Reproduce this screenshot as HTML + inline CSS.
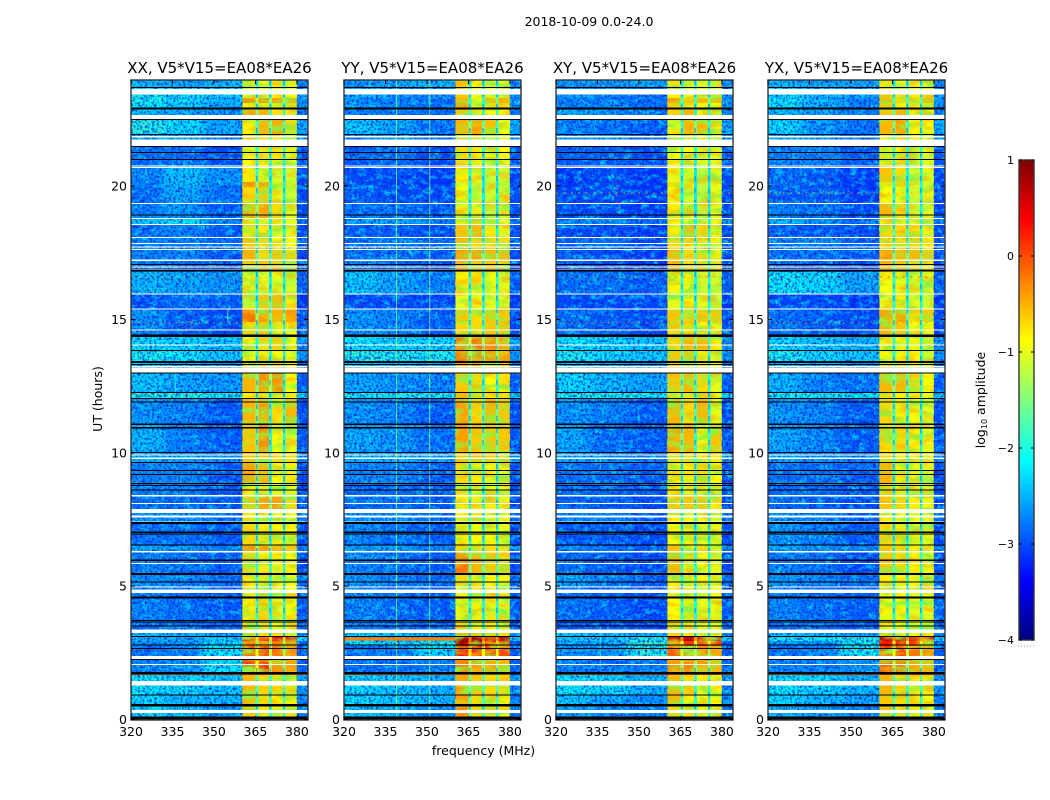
<!DOCTYPE html>
<html>
<head>
<meta charset="utf-8">
<title>2018-10-09 spectrogram</title>
<style>
html,body{margin:0;padding:0;background:#fff}
svg{display:block}
text{font-family:"DejaVu Sans","Liberation Sans",sans-serif;fill:#000}
</style>
</head>
<body>
<svg id="chart" xmlns="http://www.w3.org/2000/svg" width="1050" height="800" viewBox="0 0 1050 800">
<defs>
<filter id="speckDark" x="0" y="0" width="1" height="1" color-interpolation-filters="sRGB">
<feTurbulence type="fractalNoise" baseFrequency="0.42" numOctaves="2" seed="3"/>
<feColorMatrix type="matrix" values="0 0 0 0 0  0 0 0 0 0.12  0 0 0 0 0.85  2.6 0 0 0 -1.12"/>
</filter>
<filter id="speckLight" x="0" y="0" width="1" height="1" color-interpolation-filters="sRGB">
<feTurbulence type="fractalNoise" baseFrequency="0.12 0.2" numOctaves="3" seed="11"/>
<feColorMatrix type="matrix" values="0 0 0 0 0  0 0 0 0 0.85  0 0 0 0 1  2.4 0 0 0 -1.05"/>
</filter>
<filter id="bandGreen" x="0" y="0" width="1" height="1" color-interpolation-filters="sRGB">
<feTurbulence type="fractalNoise" baseFrequency="0.05 0.12" numOctaves="3" seed="5"/>
<feColorMatrix type="matrix" values="0 0 0 0 0.55  0 0 0 0 0.95  0 0 0 0 0.25  2.8 0 0 0 -1.15"/>
</filter>
<filter id="bandAmber" x="0" y="0" width="1" height="1" color-interpolation-filters="sRGB">
<feTurbulence type="fractalNoise" baseFrequency="0.06 0.14" numOctaves="2" seed="21"/>
<feColorMatrix type="matrix" values="0 0 0 0 1  0 0 0 0 0.72  0 0 0 0 0  2.4 0 0 0 -1.1"/>
</filter>
<filter id="smearX" x="-15%" y="0" width="130%" height="100%">
<feGaussianBlur stdDeviation="5 0"/>
</filter>
</defs>
<text x="589" y="26" text-anchor="middle" font-size="12.5">2018-10-09 0.0-24.0</text>
<text x="483.5" y="755" text-anchor="middle" font-size="12.5">frequency (MHz)</text>
<text transform="translate(102,399) rotate(-90)" text-anchor="middle" font-size="12.5">UT (hours)</text>
<text transform="translate(985,400) rotate(-90)" text-anchor="middle" font-size="12.5">log<tspan font-size="8" dy="2">10</tspan><tspan dy="-2"> amplitude</tspan></text>
<g id="panels"></g>
<g id="colorbar"></g>
</svg>
<script>
// Polarisation titles
const panelTitles = ["XX, V5*V15=EA08*EA26", "YY, V5*V15=EA08*EA26", "XY, V5*V15=EA08*EA26", "YX, V5*V15=EA08*EA26"];
const xTickLabels = [320, 335, 350, 365, 380];
const yTickLabels = [0, 5, 10, 15, 20];
const colorbarTickLabels = [1, 0, -1, -2, -3, -4];

// Time-row boundaries (UT hours, top to bottom)
const rowEdges = [24.00,23.68,23.30,23.12,22.85,22.48,21.92,21.47,20.79,20.15,19.97,19.33,18.80,18.58,18.09,17.64,17.23,16.78,15.95,15.39,14.90,14.34,13.82,13.37,12.99,12.24,12.02,11.04,9.99,9.66,8.83,8.38,7.89,7.33,6.51,6.28,5.42,4.97,3.69,3.24,3.09,2.94,2.76,2.23,1.67,0.92,0.47,0];

// Frequency channel boundaries (MHz)
const channelEdges = [320,332,346,360.3,365.1,366,369.9,370.8,374.9,375.8,380,384];

// log10 amplitude per row: [320-332, 332-346, 346-360, band1, band2, band3, band4]
const ampXX = [
[-2.4,-2.5,-2.4,-.9,-1,-.8,-1],[-2.0,-2.2,-2.3,-.9,-.9,-.8,-.9],[-2.0,-2.2,-2.4,-.2,-.2,-.4,-.4],[-2.1,-2.3,-2.5,-.8,-.8,-.8,-.9],
[-2.4,-2.5,-2.7,-.4,-.5,-.8,-.9],[-1.9,-2.2,-2.5,-.8,-.5,-.4,-.7],[-2.5,-2.5,-2.7,-.7,-.7,-.8,-.8],[-2.8,-2.8,-3,-.9,-.8,-.8,-1],
[-2.7,-2.35,-2.6,-.8,-.9,-1.1,-1.1],[-2.7,-2.4,-2.7,-.3,-.4,-.9,-1.1],[-2.8,-2.5,-2.8,-.7,-.6,-1,-1.1],[-2.7,-2.6,-2.9,-.4,-.4,-.7,-1],
[-2.3,-2.1,-2.6,-.9,-.9,-1,-1],[-2.8,-2.7,-2.9,-.8,-.8,-1,-1],[-2.7,-2.7,-2.8,-.6,-.7,-.9,-.9],[-2.7,-2.7,-2.9,-.5,-.7,-.6,-.7],
[-2.7,-2.8,-2.9,-.6,-.6,-.6,-.7],[-2.4,-2.5,-2.6,-1,-1,-1,-1.1],[-3,-2.8,-2.9,-1.1,-.6,-.5,-.8],[-2.6,-2.9,-3,-.2,-.4,-.5,-.4],
[-2.7,-2.9,-3,-.7,-.6,-.8,-.9],[-2.2,-2.2,-2.3,-1,-.8,-.7,-.9],[-2.0,-2.1,-2.3,-.9,-.8,-.9,-1],[-2.2,-2.4,-2.5,-.5,-.5,-.6,-.8],
[-2.3,-2.5,-2.6,-.5,-.3,-.3,-.9],[-1.9,-1.9,-2,-.9,-.9,-1,-1],[-2.6,-2.7,-2.9,-.5,-.4,-.8,-.5],[-2.4,-2.7,-2.9,-.6,-.3,-.9,-1],
[-2.4,-2.5,-2.6,-.6,-.6,-.7,-.7],[-2.7,-2.7,-2.9,-.4,-.5,-.9,-.8],[-2.7,-2.7,-2.9,-.9,-1,-1,-1],[-2.8,-2.8,-2.9,-.6,-.4,-.4,-.7],
[-2.6,-2.6,-2.8,-.8,-.8,-.9,-.9],[-2.8,-2.8,-2.9,-.7,-.8,-.9,-.9],[-2.5,-2.6,-2.7,-.3,-.4,-.5,-.6],[-2.7,-2.8,-2.9,-.7,-.8,-.8,-.9],
[-2.6,-2.7,-2.8,-.8,-.8,-.9,-.9],[-2.7,-2.8,-2.9,-.8,-.7,-1,-.9],[-2.8,-2.8,-2.9,-.7,-.7,-.9,-.9],[-2.3,-2.4,-2.5,-.6,-.7,-.8,-.9],
[-2.5,-2.5,-2.3,.3,.3,.3,.3],[-2.6,-2.6,-2.2,-.3,-.4,-.2,-.2],[-2.8,-2.7,-2.1,0,0,-.2,-.3],[-2.7,-2.6,-2.1,.1,.1,-.3,-.4],
[-2.1,-2.2,-2.3,-.5,-.7,-.8,-.8],[-2.2,-2.4,-2.4,-.5,-.7,-.8,-.8],[-2.2,-2.3,-2.5,-.6,-.8,-.9,-.9]
];
const ampYY = [
[-2.6,-2.5,-2.4,-.6,-.9,-1,-1],[-2.5,-2.6,-2.7,-.6,-.9,-.9,-.9],[-2.6,-2.7,-2.8,-.5,-.9,-.5,-.4],[-2.6,-2.7,-2.8,-.4,-.9,-.8,-.7],
[-2.7,-2.7,-2.8,-.7,-.8,-.9,-.9],[-2.3,-2.5,-2.8,-.5,-.4,-.6,-.9],[-2.6,-2.5,-2.8,-.7,-.8,-.9,-.9],[-2.9,-2.8,-3,-.7,-.8,-.9,-.9],
[-3,-3,-3.1,-.8,-1,-1.1,-1.1],[-3,-3,-3.1,-1,-1.1,-1.2,-1.1],[-2.9,-3,-3,-.9,-1.1,-1.1,-1.1],[-2.8,-2.8,-2.9,-1,-1,-1.2,-1.1],
[-2.5,-2.5,-2.7,-.8,-.7,-1,-1],[-2.9,-2.9,-3,-.6,-.5,-.8,-1],[-2.8,-2.7,-2.8,-.5,-.7,-.7,-.7],[-2.8,-2.8,-2.9,-.4,-.4,-.5,-.5],
[-2.7,-2.8,-2.9,-.4,-.6,-.6,-.7],[-2.3,-2.5,-2.7,-.8,-.8,-.9,-1],[-3,-3,-3,-1,-.9,-1,-1],[-2.6,-2.7,-2.9,-.6,-.7,-.6,-.6],
[-2.6,-2.7,-2.9,-.7,-.7,-.6,-.6],[-2.1,-2.2,-2.2,-.2,-.2,-.3,-.4],[-1.9,-2,-2,-.2,-.2,-.3,-.4],[-2.3,-2.3,-2.4,-.4,-.4,-.5,-.6],
[-2.5,-2.6,-2.7,-.6,-.7,-.9,-.8],[-2,-2,-2,-.5,-.7,-.8,-.8],[-2.6,-2.7,-2.9,-.4,-.7,-.5,-.6],[-2.5,-2.6,-2.8,-.4,-.6,-.6,-.6],
[-2.4,-2.4,-2.5,-.6,-.6,-.6,-.7],[-2.7,-2.7,-2.9,-.7,-.8,-.9,-1],[-2.8,-2.8,-2.9,-.8,-1,-1,-1],[-2.8,-2.8,-2.9,-.8,-.8,-.8,-.9],
[-2.6,-2.6,-2.8,-.8,-.8,-.9,-.9],[-2.7,-2.8,-2.9,-.8,-.9,-.9,-1],[-2.5,-2.5,-2.7,-.7,-.7,-.7,-.8],[-2.7,-2.8,-2.9,-.2,-.5,-.6,-.7],
[-2.6,-2.7,-2.8,-.7,-.8,-.9,-.9],[-2.7,-2.8,-2.9,-.9,-.8,-1,-1],[-2.7,-2.8,-2.9,-.7,-.8,-.9,-.9],[-2.2,-2.3,-2.4,-.4,-.6,-.7,-.7],
[-2.2,-2.3,-2.2,.8,.8,.8,.7],[-2.2,-2.2,-2,.8,.7,.5,.3],[-2.8,-2.7,-2.2,.3,.2,.1,0],[-2.8,-2.8,-2.7,-.2,-.3,-.4,-.5],
[-2.2,-2.3,-2.4,-.4,-.6,-.7,-.7],[-2.2,-2.3,-2.4,-.4,-.7,-.8,-.8],[-2.3,-2.4,-2.6,-.3,-.7,-.8,-.9]
];
const ampXY = [
[-2.6,-2.6,-2.5,-.9,-1,-1,-1],[-2.6,-2.7,-2.8,-.8,-.9,-.9,-.9],[-2.7,-2.7,-2.8,-.4,-.7,-.5,-.5],[-2.7,-2.7,-2.8,-.7,-.9,-.9,-.9],
[-2.5,-2.6,-2.8,-.8,-.5,-.9,-.9],[-2.7,-2.8,-2.9,-.9,-.5,-.5,-1],[-2.6,-2.5,-2.8,-.9,-.8,-.9,-1],[-2.9,-2.9,-3,-.9,-.9,-1,-1],
[-3.1,-3,-3.1,-1,-1,-1.2,-1],[-3.1,-3,-3.1,-.7,-.9,-1.2,-1],[-3,-3,-3.1,-.9,-1.1,-1.2,-1],[-3,-3,-3.1,-.8,-.9,-1.2,-1],
[-2.6,-2.6,-2.8,-.9,-.9,-1.1,-1],[-3,-3,-3.1,-.8,-.5,-.7,-1],[-2.9,-2.8,-3,-.7,-.8,-.8,-.9],[-2.9,-3,-3.1,-.5,-.7,-.7,-.8],
[-2.9,-3,-3.1,-.5,-.7,-.7,-.8],[-2.8,-2.8,-2.9,-.9,-.9,-1.1,-1.1],[-3,-3,-3,-1,-.8,-1,-1.1],[-2.8,-2.9,-3,-.6,-.7,-.6,-.6],
[-2.8,-2.9,-3,-.7,-.7,-.9,-1],[-2.1,-2.2,-2.3,-.7,-.5,-.5,-.8],[-2,-2.2,-2.3,-.6,-.6,-.8,-1],[-2.3,-2.4,-2.5,-.6,-.6,-.8,-.9],
[-2.2,-2.4,-2.5,-.6,-.5,-.7,-1],[-2,-2,-2,-.8,-.8,-.9,-1],[-2.6,-2.7,-2.9,-.5,-.7,-.5,-1],[-2.5,-2.8,-2.9,-.4,-.5,-.9,-.6],
[-2.5,-2.6,-2.7,-.7,-.7,-.8,-.8],[-2.8,-2.8,-2.9,-.8,-.8,-.7,-.9],[-2.8,-2.8,-2.9,-.9,-1,-1,-1],[-2.9,-2.9,-3,-.7,-.6,-.6,-.8],
[-2.7,-2.7,-2.9,-.8,-.9,-.9,-1],[-2.9,-2.9,-3,-.9,-.9,-1,-1],[-2.7,-2.8,-2.9,-.6,-.8,-.7,-.9],[-2.8,-2.9,-3,-.5,-.8,-.9,-1],
[-2.5,-2.7,-2.9,-.8,-.9,-.9,-1],[-2.8,-2.9,-3,-.9,-.8,-1,-.9],[-2.9,-2.9,-3,-.8,-.9,-.9,-1],[-2.3,-2.4,-2.4,-.7,-.8,-.9,-.9],
[-2.3,-2.3,-2,.7,.7,.6,.6],[-2.6,-2.5,-1.8,.1,.1,.1,.1],[-2.6,-2.6,-1.9,-.1,-.1,-.3,-.4],[-2.7,-2.8,-2.7,-.3,-.3,-.4,-.5],
[-2.1,-2.2,-2.4,-.5,-.7,-.9,-.9],[-2.3,-2.5,-2.6,-.5,-.8,-.9,-.9],[-2.5,-2.6,-2.7,-.7,-.8,-.9,-1]
];
const ampYX = [
[-2.4,-2.5,-2.5,-.8,-1,-1,-1],[-2.2,-2.4,-2.6,-.6,-.8,-.8,-.7],[-2.1,-2.4,-2.7,-.5,-.7,-.7,-.5],[-2.2,-2.5,-2.7,-.6,-.9,-.8,-.8],
[-2.4,-2.5,-2.7,-.6,-.5,-.9,-.9],[-2.2,-2.6,-2.8,-.5,-.4,-.8,-.9],[-2.5,-2.5,-2.7,-.8,-.7,-.9,-.9],[-2.7,-2.7,-2.9,-.8,-.8,-1,-1],
[-2.8,-2.9,-3.1,-.6,-.7,-1.1,-1],[-2.8,-2.9,-3.1,-.8,-.7,-1.1,-1],[-2.9,-2.9,-3.1,-.9,-.9,-1.1,-1],[-2.7,-2.8,-3,-.5,-.7,-1.1,-1],
[-2.4,-2.6,-2.8,-.8,-.8,-1,-1],[-2.9,-2.9,-3,-.7,-.7,-.7,-.9],[-2.7,-2.7,-2.9,-.7,-.7,-.7,-.8],[-2.8,-2.8,-2.9,-.4,-.5,-.5,-.6],
[-2.8,-2.9,-3,-.5,-.6,-.7,-.8],[-2.1,-2.2,-2.5,-.9,-.9,-1,-1],[-3,-3,-3.1,-1,-.8,-1,-1.1],[-2.8,-2.9,-3,-.4,-.4,-.7,-.6],
[-2.8,-2.9,-3,-.5,-.6,-.9,-.9],[-2.2,-2.3,-2.4,-.9,-.9,-.9,-1],[-2,-2.2,-2.3,-.9,-.9,-.9,-1],[-2.3,-2.4,-2.5,-.6,-.6,-.8,-.9],
[-2.4,-2.7,-2.8,-.5,-.5,-.7,-.9],[-2,-2,-2.1,-.7,-.8,-.8,-.9],[-2.6,-2.7,-2.9,-.7,-.8,-.9,-1],[-2.5,-2.7,-2.9,-.7,-.7,-.8,-1],
[-2.5,-2.6,-2.7,-.7,-.8,-.8,-.9],[-2.8,-2.8,-2.9,-.5,-.8,-.9,-1],[-2.8,-2.8,-2.9,-.7,-.9,-1,-1],[-2.8,-2.9,-3,-.6,-.7,-.8,-.9],
[-2.6,-2.7,-2.9,-.8,-.9,-.9,-1],[-2.6,-2.7,-2.9,-.7,-.8,-.9,-1],[-2.5,-2.6,-2.7,-.6,-.7,-.8,-.9],[-2.7,-2.8,-3,-.6,-.7,-.8,-.9],
[-2.6,-2.7,-2.8,-.8,-.9,-.9,-1],[-2.7,-2.8,-2.9,-.9,-.9,-1,-1],[-2.8,-2.8,-2.9,-.9,-.9,-1,-1],[-2.3,-2.4,-2.5,-.7,-.8,-.9,-.9],
[-2.1,-2.1,-2,.7,.7,.6,.6],[-2.6,-2.6,-2,.3,.2,.1,.1],[-2.8,-2.7,-2,.1,0,-.2,-.3],[-2.7,-2.7,-2.6,-.1,-.2,-.4,-.5],
[-2.1,-2.2,-2.4,-.5,-.7,-.8,-.8],[-2.2,-2.4,-2.5,-.6,-.7,-.8,-.9],[-2.4,-2.5,-2.7,-.6,-.8,-.9,-1]
];
// 380-384 MHz level per row, shared by all panels
const edgeLevels = [-2.7,-2.6,-2.6,-2.6,-2.7,-2.5,-2.6,-2.9,-3,-3,-3,-3,-2.7,-3,-2.9,-3,-3,-2.9,-3.1,-3,-3,-2.6,-2.6,-2.7,-2.9,-2.3,-3,-2.9,-2.6,-3,-3,-3,-2.8,-3,-2.7,-3,-2.8,-2.9,-2.9,-2.7,-2.2,-2.9,-2.9,-2.9,-2.6,-2.7,-2.7];
// depth of the notch between sub-bands, in dex below the weaker neighbour
const notchDepth = 1.0;
// centre frequencies of the deepest notch channels (MHz)
const notchCentres = [365.5, 370.3, 375.3];

// Flagged intervals with no data [startUT, endUT]
const blankIntervals = [[23.44,23.65],[22.48,22.67],[21.83,21.88],[21.66,21.74],[21.47,21.65],[20.73,20.77],[20.67,20.72],[19.32,19.36],[18.77,18.81],[18.55,18.58],[18.06,18.10],[17.83,17.87],[17.69,17.73],[17.61,17.65],[17.20,17.24],[16.94,16.98],[16.86,16.90],[15.93,15.97],[15.37,15.41],[14.58,14.62],[14.02,14.06],[13.21,13.25],[13.01,13.19],[9.90,9.94],[9.76,9.82],[9.62,9.66],[8.37,8.41],[8.09,8.12],[7.74,7.89],[7.58,7.64],[7.38,7.42],[6.27,6.31],[5.84,5.87],[4.95,4.99],[4.75,4.87],[3.25,3.37],[2.26,2.38],[2.05,2.09],[1.27,1.44],[0.24,0.36]];
// Scan boundaries drawn black [UT, durationHours]
const scanBreaks = [[23.68,.04],[22.87,.08],[22.48,.04],[21.92,.04],[21.47,.04],[21.24,.04],[20.98,.04],[18.89,.04],[17.04,.04],[16.80,.08],[14.34,.1],[13.82,.04],[13.37,.08],[13.29,.04],[12.98,.04],[12.24,.04],[12.02,.04],[11.88,.04],[11.05,.04],[10.92,.04],[9.99,.04],[9.61,.04],[9.31,.04],[9.17,.04],[8.83,.04],[8.76,.04],[8.58,.04],[7.33,.08],[7.00,.04],[6.93,.04],[6.52,.04],[5.95,.04],[5.42,.08],[5.13,.04],[4.58,.04],[4.53,.04],[3.70,.04],[3.63,.04],[3.48,.04],[3.09,.04],[2.77,.04],[2.65,.04],[2.23,.04],[1.69,.1],[0.90,.04],[0.49,.1],[0.0,.12]];
// Narrow-band RFI [panel index, MHz, fromUT, toUT, level]
const rfiVertical = [[1,339,0,24,-1.5],[1,351,0,24,-1.5],[0,336,12.3,13,-1.9],[0,355,14.9,15.4,-1.6],[2,336,9.4,10,-1.7],[2,336,2,3.5,-1.8]];
// Impulsive RFI rows [UT, level]; dotted across the band
const rfiRowsXX = [[17.68,-.3],[16.59,-.5],[14.87,-.4],[14.38,-.4],[0.92,-.2]];
const rfiRowsYY = [[17.68,-.6],[14.38,-.5],[0.92,-.2]];
const rfiRowsXY = [[18.02,-.3],[16.59,-.2],[14.87,-.3],[19.74,-.5],[0.92,-.4]];
const rfiRowsYX = [[18.02,-.3],[16.59,.1],[14.87,-.3],[19.74,-.5],[0.92,-.1]];
// Impulsive vertical RFI [panel index, MHz, fromUT, toUT]
const rfiDotted = [[2,342,18.8,20.4],[3,342,18.8,20.4],[0,342,14.3,15.2]];
// Strong continuous interference [panel index, fromMHz, toMHz, fromUT, toUT, level]
const hotStripes = [[1,320,360.3,2.96,3.07,-.25],[1,320,360.3,1.67,1.71,-.1],[0,320,384,1.67,1.71,-.1],[2,320,384,1.67,1.71,-.1],[3,320,384,1.67,1.71,-.1]];

const amplitudes = [ampXX, ampYY, ampXY, ampYX];
const rfiRows = [rfiRowsXX, rfiRowsYY, rfiRowsXY, rfiRowsYX];

// Layout
const panelLefts = [131, 344, 556, 768];
const panelWidth = 177;
const plotTop = 80, plotBottom = 720;
const NS = 'http://www.w3.org/2000/svg';

function xScale(mhz, left) { return left + (mhz - 320) * panelWidth / 64; }
function yScale(ut) { return 719.5 - ut * 26.67; }
function make(tag, attrs, parent) {
  const el = document.createElementNS(NS, tag);
  for (const k in attrs) el.setAttribute(k, attrs[k]);
  parent.appendChild(el);
  return el;
}
function jet(v) {
  const t = Math.max(0, Math.min(1, (v + 4) / 5));
  const ch = (c) => Math.round(255 * Math.max(0, Math.min(1, 1.5 - Math.abs(4 * t - c))));
  return 'rgb(' + ch(3) + ',' + ch(2) + ',' + ch(1) + ')';
}
function levelAt(data, r, c) {
  const row = data[r];
  if (c <= 3) return row[c];
  if (c === 4) return Math.min(row[3], row[4]) - notchDepth;
  if (c === 5) return row[4];
  if (c === 6) return Math.min(row[4], row[5]) - notchDepth;
  if (c === 7) return row[5];
  if (c === 8) return Math.min(row[5], row[6]) - notchDepth;
  if (c === 9) return row[6];
  return edgeLevels[r];
}
function drawCells(parent, data, left, columns) {
  for (let r = 0; r < rowEdges.length - 1; r++) {
    columns.forEach(function (c) {
      let x0 = xScale(channelEdges[c], left), x1 = xScale(channelEdges[c + 1], left);
      if (c === 0) x0 -= 25;
      if (c === 2) x1 += 25;
      const y0 = Math.max(plotTop, yScale(rowEdges[r])), y1 = yScale(rowEdges[r + 1]);
      const cell = make('rect', { x: x0, y: y0, width: x1 - x0 + .4, height: y1 - y0 + .4, fill: jet(levelAt(data, r, c)) }, parent);
      
      
    });
  }
}

const panels = document.getElementById('panels');
const defs = document.querySelector('defs');
panelLefts.forEach(function (left, p) {
  const g = make('g', {}, panels);
  
  
  const right = left + panelWidth;
  const data = amplitudes[p];

  const clip = make('clipPath', { id: 'clip' + p }, defs);
  make('rect', { x: left, y: plotTop, width: panelWidth, height: plotBottom - plotTop }, clip);

  const bg = make('rect', { x: left, y: plotTop, width: panelWidth, height: plotBottom - plotTop, fill: '#fff' }, g);
  
  

  // heatmap: off-band cells (smeared along frequency), then sub-bands and notches
  const clipped = make('g', { 'clip-path': 'url(#clip' + p + ')' }, g);
  
  
  const offBand = make('g', { filter: 'url(#smearX)' }, clipped);
  
  
  drawCells(offBand, data, left, [0, 1, 2]);
  const bands = make('g', { 'shape-rendering': 'crispEdges' }, clipped);
  
  
  drawCells(bands, data, left, [3, 5, 7, 9, 10]);

  // blotchy texture across the 360-380 MHz band
  ['bandGreen', 'bandAmber'].forEach(function (f) {
    const tex = make('rect', { x: xScale(360.3, left), y: plotTop, width: xScale(380, left) - xScale(360.3, left), height: plotBottom - plotTop, filter: 'url(#' + f + ')' }, g);
    
    
  });

  const notches = make('g', { 'shape-rendering': 'crispEdges' }, g);
  
  
  drawCells(notches, data, left, [4, 6, 8]);
  notchCentres.forEach(function (f) {
    const n = make('line', { x1: xScale(f, left), x2: xScale(f, left), y1: plotTop, y2: plotBottom, stroke: jet(-3), 'stroke-width': 1, 'stroke-dasharray': '5 7', opacity: .65 }, g);
    
    
  });

  // mottled background texture over the off-band region
  [[320, 360.3], [380, 384]].forEach(function (range) {
    ['speckLight', 'speckDark'].forEach(function (f) {
      const tex = make('rect', { x: xScale(range[0], left), y: plotTop, width: xScale(range[1], left) - xScale(range[0], left), height: plotBottom - plotTop, filter: 'url(#' + f + ')' }, g);
      
      
    });
  });

  // vertical RFI
  rfiVertical.filter(function (d) { return d[0] === p; }).forEach(function (d) {
    const l = make('line', { x1: xScale(d[1], left), x2: xScale(d[1], left), y1: yScale(d[3]), y2: yScale(d[2]), stroke: jet(d[4]), 'stroke-width': 1, opacity: .75 }, g);
    
    
  });
  rfiDotted.filter(function (d) { return d[0] === p; }).forEach(function (d) {
    const l = make('line', { x1: xScale(d[1], left), x2: xScale(d[1], left), y1: yScale(d[3]), y2: yScale(d[2]), stroke: '#f52', 'stroke-width': 1, 'stroke-dasharray': '1.5 5' }, g);
    
    
  });
  // horizontal RFI
  rfiRows[p].forEach(function (d) {
    const y = yScale(d[0]);
    const l = make('line', { x1: left, x2: right, y1: y, y2: y, stroke: jet(d[1]), 'stroke-width': 1, 'stroke-dasharray': '1.5 6' }, g);
    
    
  });
  hotStripes.filter(function (d) { return d[0] === p; }).forEach(function (d) {
    const s = make('rect', { x: xScale(d[1], left), y: yScale(d[4]), width: xScale(d[2], left) - xScale(d[1], left), height: Math.max(1, yScale(d[3]) - yScale(d[4])), fill: jet(d[5]) }, g);
    
    
  });

  // flagged gaps
  blankIntervals.forEach(function (d) {
    const y0 = yScale(d[1]), y1 = yScale(d[0]);
    const b = make('rect', { x: left, y: y0, width: panelWidth, height: Math.max(1, y1 - y0), fill: '#fff', 'shape-rendering': 'crispEdges' }, g);
    
    
  });
  scanBreaks.forEach(function (d) {
    const y0 = yScale(d[0] + d[1]), y1 = yScale(d[0]);
    const b = make('rect', { x: left, y: y0, width: panelWidth, height: Math.max(1, y1 - y0), fill: '#000', 'shape-rendering': 'crispEdges' }, g);
    
    
  });

  // frame
  const frame = make('rect', { x: left, y: plotTop, width: panelWidth, height: plotBottom - plotTop, fill: 'none', stroke: '#333', 'stroke-width': 1.4 }, g);
  
  

  // x ticks
  xTickLabels.forEach(function (v) {
    const x = xScale(v, left);
    const t1 = make('line', { x1: x, x2: x, y1: plotBottom, y2: plotBottom - 4, stroke: '#000' }, g);
    
    
    const t2 = make('line', { x1: x, x2: x, y1: plotTop, y2: plotTop + 4, stroke: '#000' }, g);
    
    
    const lbl = make('text', { x: x, y: 736, 'text-anchor': 'middle', 'font-size': 12.5 }, g);
    lbl.textContent = v;
    
    
  });
  // y ticks
  yTickLabels.forEach(function (v) {
    const y = yScale(v);
    const t1 = make('line', { x1: left, x2: left + 4, y1: y, y2: y, stroke: '#000' }, g);
    
    
    const t2 = make('line', { x1: right, x2: right - 4, y1: y, y2: y, stroke: '#000' }, g);
    
    
    const lbl = make('text', { x: left - 4, y: y + 4.5, 'text-anchor': 'end', 'font-size': 12.5 }, g);
    lbl.textContent = v;
    
    
  });
  const ttl = make('text', { x: left + panelWidth / 2, y: 73, 'text-anchor': 'middle', 'font-size': 15 }, g);
  ttl.textContent = panelTitles[p];
  
  
});

// Colorbar
const cb = document.getElementById('colorbar');
const cbLeft = 1019, cbRight = 1034, cbTop = 160, cbBottom = 640;
const cbMin = -4, cbMax = 1;
function cbY(v) { return cbBottom - (v - cbMin) * (cbBottom - cbTop) / (cbMax - cbMin); }
for (let i = 0; i < 240; i++) {
  const v0 = cbMin + i * (cbMax - cbMin) / 240;
  const v1 = cbMin + (i + 1) * (cbMax - cbMin) / 240;
  const s = make('rect', { x: cbLeft, y: cbY(v1), width: cbRight - cbLeft, height: cbY(v0) - cbY(v1) + .5, fill: jet((v0 + v1) / 2), 'shape-rendering': 'crispEdges' }, cb);
  
  
}
const cbFrame = make('rect', { x: cbLeft, y: cbTop, width: cbRight - cbLeft, height: cbBottom - cbTop, fill: 'none', stroke: '#333', 'stroke-width': 1.4 }, cb);


colorbarTickLabels.forEach(function (v) {
  const y = cbY(v);
  const a = make('line', { x1: cbLeft, x2: cbLeft + 3, y1: y, y2: y, stroke: '#000' }, cb);
  
  
  const b = make('line', { x1: cbRight, x2: cbRight - 3, y1: y, y2: y, stroke: '#000' }, cb);
  
  
  const lbl = make('text', { x: 1014, y: y + 4, 'text-anchor': 'end', 'font-size': 11 }, cb);
  lbl.textContent = String(v).replace('-', '\u2212');
  
  
});
const cbDots = make('line', { x1: 1018, x2: 1034, y1: 646, y2: 646, stroke: '#999', 'stroke-width': 1, 'stroke-dasharray': '1 2' }, cb);


</script>
</body>
</html>
